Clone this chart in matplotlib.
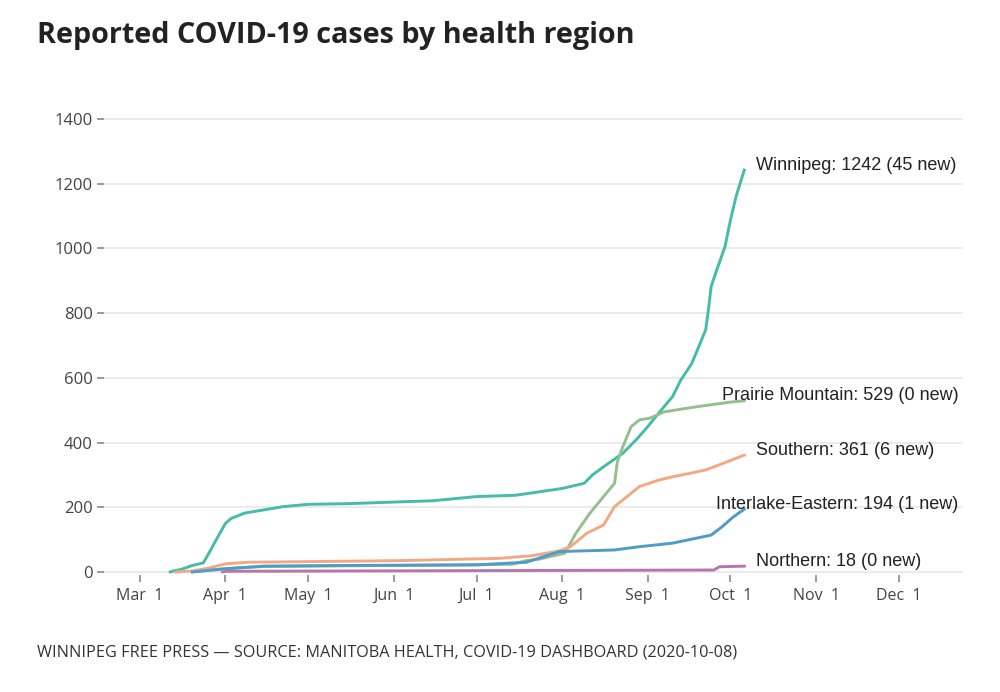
import numpy as np
import pandas as pd
import matplotlib
matplotlib.use("Agg")
import matplotlib.pyplot as plt
import matplotlib.dates as mdates
import matplotlib.transforms as mtransforms

# ---------------- data ----------------
regions = ["Winnipeg", "Prairie Mountain", "Southern", "Interlake-Eastern", "Northern"]
new_cases = [45, 0, 6, 1, 0]

wpg_dates = ["2020-03-12", "2020-03-13", "2020-03-16", "2020-03-20", "2020-03-24", "2020-03-26",
             "2020-03-28", "2020-03-30", "2020-04-01", "2020-04-03", "2020-04-05", "2020-04-08",
             "2020-04-15", "2020-04-22", "2020-05-01", "2020-05-15", "2020-06-01", "2020-06-15",
             "2020-07-01", "2020-07-15", "2020-07-24", "2020-08-01", "2020-08-09", "2020-08-12",
             "2020-08-16", "2020-08-23", "2020-08-28", "2020-09-01", "2020-09-05", "2020-09-10",
             "2020-09-13", "2020-09-17", "2020-09-19", "2020-09-22", "2020-09-23", "2020-09-24",
             "2020-09-26", "2020-09-29", "2020-10-01", "2020-10-03", "2020-10-06"]
wpg_vals = [0, 3, 8, 20, 28, 58, 89, 120, 150, 165, 172, 182, 192, 202, 209, 211, 216, 220,
            233, 237, 248, 258, 274, 300, 325, 367, 410, 449, 491, 542, 593, 645, 686, 748,
            810, 882, 933, 1005, 1088, 1160, 1242]

pm_dates = ["2020-03-20", "2020-04-01", "2020-04-15", "2020-05-15", "2020-07-01", "2020-07-14",
            "2020-07-19", "2020-07-24", "2020-08-02", "2020-08-06", "2020-08-11", "2020-08-16",
            "2020-08-20", "2020-08-21", "2020-08-23", "2020-08-26", "2020-08-29", "2020-09-02",
            "2020-09-07", "2020-09-19", "2020-10-01", "2020-10-06"]
pm_vals = [0, 10, 17, 19, 22, 24, 35, 40, 58, 120, 181, 233, 274, 340, 387, 449, 470, 476,
           495, 511, 525, 529]

sth_dates = ["2020-03-14", "2020-03-20", "2020-03-26", "2020-04-01", "2020-04-09", "2020-05-01",
             "2020-06-03", "2020-07-09", "2020-07-21", "2020-07-31", "2020-08-04", "2020-08-10",
             "2020-08-16", "2020-08-20", "2020-08-26", "2020-08-29", "2020-09-05", "2020-09-10",
             "2020-09-22", "2020-10-06"]
sth_vals = [0, 3, 12, 25, 30, 32, 35, 42, 50, 65, 78, 120, 145, 202, 243, 264, 284, 294, 315, 361]

ie_dates = ["2020-03-20", "2020-04-01", "2020-04-15", "2020-05-15", "2020-07-01", "2020-07-19",
            "2020-07-31", "2020-08-20", "2020-08-29", "2020-09-10", "2020-09-24", "2020-09-28",
            "2020-10-02", "2020-10-06"]
ie_vals = [0, 10, 18, 20, 22, 30, 63, 68, 78, 89, 114, 140, 170, 194]

nor_dates = ["2020-03-31", "2020-04-01", "2020-09-25", "2020-09-27", "2020-10-06"]
nor_vals = [0, 2, 6, 16, 18]

series_dates = [wpg_dates, pm_dates, sth_dates, ie_dates, nor_dates]
series_vals = [wpg_vals, pm_vals, sth_vals, ie_vals, nor_vals]
colors = ["#45bbaa", "#93c08e", "#f3a884", "#4f9cc8", "#b675ad"]

y_ticks = [0, 200, 400, 600, 800, 1000, 1200, 1400]
x_tick_dates = ["2020-03-01", "2020-04-01", "2020-05-01", "2020-06-01", "2020-07-01",
                "2020-08-01", "2020-09-01", "2020-10-01", "2020-11-01", "2020-12-01"]
x_tick_labels = ["Mar  1", "Apr  1", "May  1", "Jun  1", "Jul  1", "Aug  1", "Sep  1",
                 "Oct  1", "Nov  1", "Dec  1"]

# ---------------- figure ----------------
fig = plt.figure(figsize=(10, 6.92), dpi=100)
ax = fig.add_axes([0.104, 0.1688, 0.859, 0.6826])

for d, v, c in zip(series_dates, series_vals, colors):
    ax.plot(pd.to_datetime(d), v, color=c, lw=2.1, zorder=3)

ax.set_ylim(-10, 1450)
ax.set_xlim(pd.Timestamp("2020-02-17"), pd.Timestamp("2020-12-24 06:00"))

ax.set_yticks(y_ticks)
ax.set_yticklabels([str(t) for t in y_ticks])
ax.set_xticks(pd.to_datetime(x_tick_dates))
ax.set_xticklabels(x_tick_labels)

for s in ax.spines.values():
    s.set_visible(False)
ax.grid(axis="y", color="#e6e6e6", lw=1.1, zorder=0)
ax.tick_params(axis="y", length=5, width=1.2, color="#8a8a8a", pad=3,
               labelsize=12, labelcolor="#444444")
ax.tick_params(axis="x", length=5, width=1.2, color="#8a8a8a", pad=4,
               labelsize=11.5, labelcolor="#444444", direction="out")
for lab in ax.get_xticklabels() + ax.get_yticklabels():
    lab.set_fontfamily(["Open Sans", "DejaVu Sans"])

# end labels
right_aligned = {"Prairie Mountain", "Interlake-Eastern"}
for name, d, v, n in zip(regions, series_dates, series_vals, new_cases):
    txt = f"{name}: {v[-1]} ({n} new)"
    last_x = mdates.date2num(pd.Timestamp(d[-1]))
    if name in right_aligned:
        trans = mtransforms.blended_transform_factory(ax.transAxes, ax.transData)
        tr = trans + mtransforms.ScaledTranslation(0, 5 / 100, fig.dpi_scale_trans)
        ax.text(0.995, v[-1], txt, transform=tr, ha="right", va="center",
                fontsize=13, color="#222222", family=["Liberation Sans", "DejaVu Sans"],
                zorder=4)
    else:
        tr = ax.transData + mtransforms.ScaledTranslation(12 / 100, 5 / 100, fig.dpi_scale_trans)
        ax.text(last_x, v[-1], txt, transform=tr, ha="left", va="center",
                fontsize=13, color="#222222", family=["Liberation Sans", "DejaVu Sans"],
                zorder=4)

fig.text(0.037, 0.949, "Reported COVID-19 cases by health region", ha="left", va="center",
         fontsize=20.7, fontweight="bold", color="#222222",
         family=["Open Sans", "DejaVu Sans"])
fig.text(0.037, 0.057,
         "WINNIPEG FREE PRESS \u2014 SOURCE: MANITOBA HEALTH, COVID-19 DASHBOARD (2020-10-08)",
         ha="left", va="center", fontsize=11.7, color="#333333",
         family=["Open Sans", "DejaVu Sans"])

fig.savefig("out.png", dpi=100, facecolor="white")
